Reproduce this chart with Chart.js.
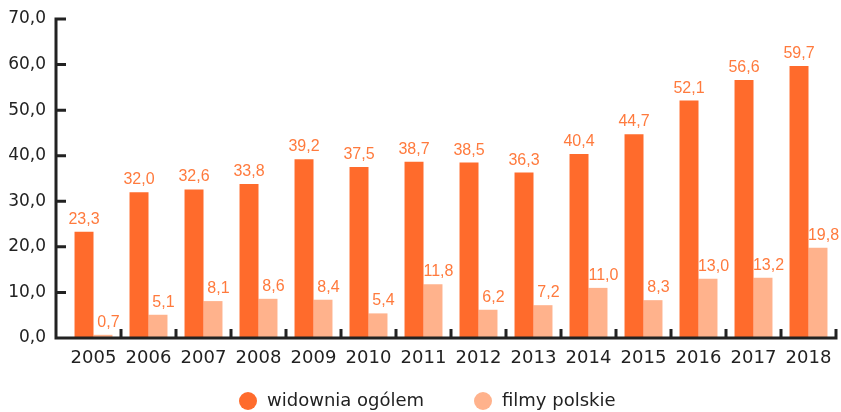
<!DOCTYPE html>
<html>
<head>
<meta charset="utf-8">
<script src="https://cdn.jsdelivr.net/npm/chart.js@4/dist/chart.umd.min.js"></script>
<style>
  html, body { margin: 0; padding: 0; background: #fff; }
  #caja { width: 841px; height: 412px; }
</style>
</head>
<body>
<div id="caja"><canvas id="myChart"></canvas></div>
<script>
const lata = ["2005", "2006", "2007", "2008", "2009", "2010", "2011", "2012", "2013", "2014", "2015", "2016", "2017", "2018"];
const widowniaOgolem = [23.3, 32.0, 32.6, 33.8, 39.2, 37.5, 38.7, 38.5, 36.3, 40.4, 44.7, 52.1, 56.6, 59.7];
const filmyPolskie = [0.7, 5.1, 8.1, 8.6, 8.4, 5.4, 11.8, 6.2, 7.2, 11.0, 8.3, 13.0, 13.2, 19.8];
const osY = [0, 10, 20, 30, 40, 50, 60, 70];

const ciemny = "#ff6b2c";
const jasny = "#ffb28c";
const tekst = "#222222";

function fmt(v) {
  return v.toFixed(1).replace(".", ",");
}

// etykiety nad slupkami (jasne lekko w prawo)
const przesuniecie = [0, 5.5];
const etykiety = {
  id: "etykiety",
  afterDatasetsDraw(chart) {
    const ctx = chart.ctx;
    ctx.save();
    ctx.font = "16px 'Liberation Sans', Arial, sans-serif";
    ctx.fillStyle = "#ff7a3d";
    ctx.textAlign = "center";
    ctx.textBaseline = "alphabetic";
    chart.data.datasets.forEach((ds, i) => {
      chart.getDatasetMeta(i).data.forEach((bar, j) => {
        ctx.fillText(fmt(ds.data[j]), bar.x + przesuniecie[i], bar.y - 8);
      });
    });
    ctx.restore();
  }
};

// osie, kreski i legenda
const osie = {
  id: "osie",
  afterDraw(chart) {
    const ctx = chart.ctx;
    const a = chart.chartArea;
    const y = chart.scales.y;
    const lewa = a.left - 10;
    ctx.save();
    ctx.strokeStyle = tekst;
    ctx.lineWidth = 3;
    ctx.beginPath();
    ctx.moveTo(lewa, y.getPixelForValue(70) - 1.5);
    ctx.lineTo(lewa, a.bottom + 1.5);
    ctx.moveTo(lewa, a.bottom);
    ctx.lineTo(a.right + 1.5, a.bottom);
    osY.forEach((v) => {
      const py = y.getPixelForValue(v);
      ctx.moveTo(lewa, py);
      ctx.lineTo(lewa + 10, py);
    });
    const szer = (a.right - a.left) / lata.length;
    for (let i = 1; i <= lata.length; i++) {
      const px = Math.min(a.left + i * szer, a.right);
      ctx.moveTo(px, a.bottom);
      ctx.lineTo(px, a.bottom - 9);
    }
    ctx.stroke();

    // legenda
    const pozycje = [248, 483];
    ctx.font = "18px 'DejaVu Sans', sans-serif";
    ctx.textBaseline = "middle";
    ctx.textAlign = "left";
    chart.data.datasets.forEach((ds, i) => {
      ctx.fillStyle = ds.backgroundColor;
      ctx.beginPath();
      ctx.arc(pozycje[i], 401, 9, 0, Math.PI * 2);
      ctx.fill();
      ctx.fillStyle = tekst;
      ctx.fillText(ds.label, pozycje[i] + 19, 401);
    });
    ctx.restore();
  }
};

function createChart() {
  const ctx = document.getElementById("myChart").getContext("2d");
  new Chart(ctx, {
    type: "bar",
    data: {
      labels: lata,
      datasets: [
        { label: "widownia ogólem", data: widowniaOgolem, backgroundColor: ciemny },
        { label: "filmy polskie", data: filmyPolskie, backgroundColor: jasny }
      ]
    },
    options: {
      responsive: true,
      maintainAspectRatio: false,
      animation: false,
      layout: { padding: { top: 19, right: 5, left: 0, bottom: 0 } },
      datasets: {
        bar: { categoryPercentage: 0.69, barPercentage: 1.0 }
      },
      plugins: {
        legend: { display: false },
        tooltip: { enabled: false }
      },
      scales: {
        x: {
          grid: { display: false },
          border: { display: false },
          ticks: {
            color: tekst,
            font: { family: "'DejaVu Sans', sans-serif", size: 18 },
            padding: 2,
            maxRotation: 0
          },
          afterFit(scale) {
            scale.height = 74;
          }
        },
        y: {
          min: 0,
          max: 70,
          grid: { drawOnChartArea: false, tickLength: 18, color: "rgba(0,0,0,0)" },
          border: { display: false },
          ticks: {
            stepSize: 10,
            color: tekst,
            font: { family: "'DejaVu Sans', sans-serif", size: 17 },
            padding: 2,
            callback: (v) => fmt(v)
          },
          afterFit(scale) {
            scale.width = 66;
          }
        }
      }
    },
    plugins: [etykiety, osie]
  });
}

createChart();
</script>
</body>
</html>
